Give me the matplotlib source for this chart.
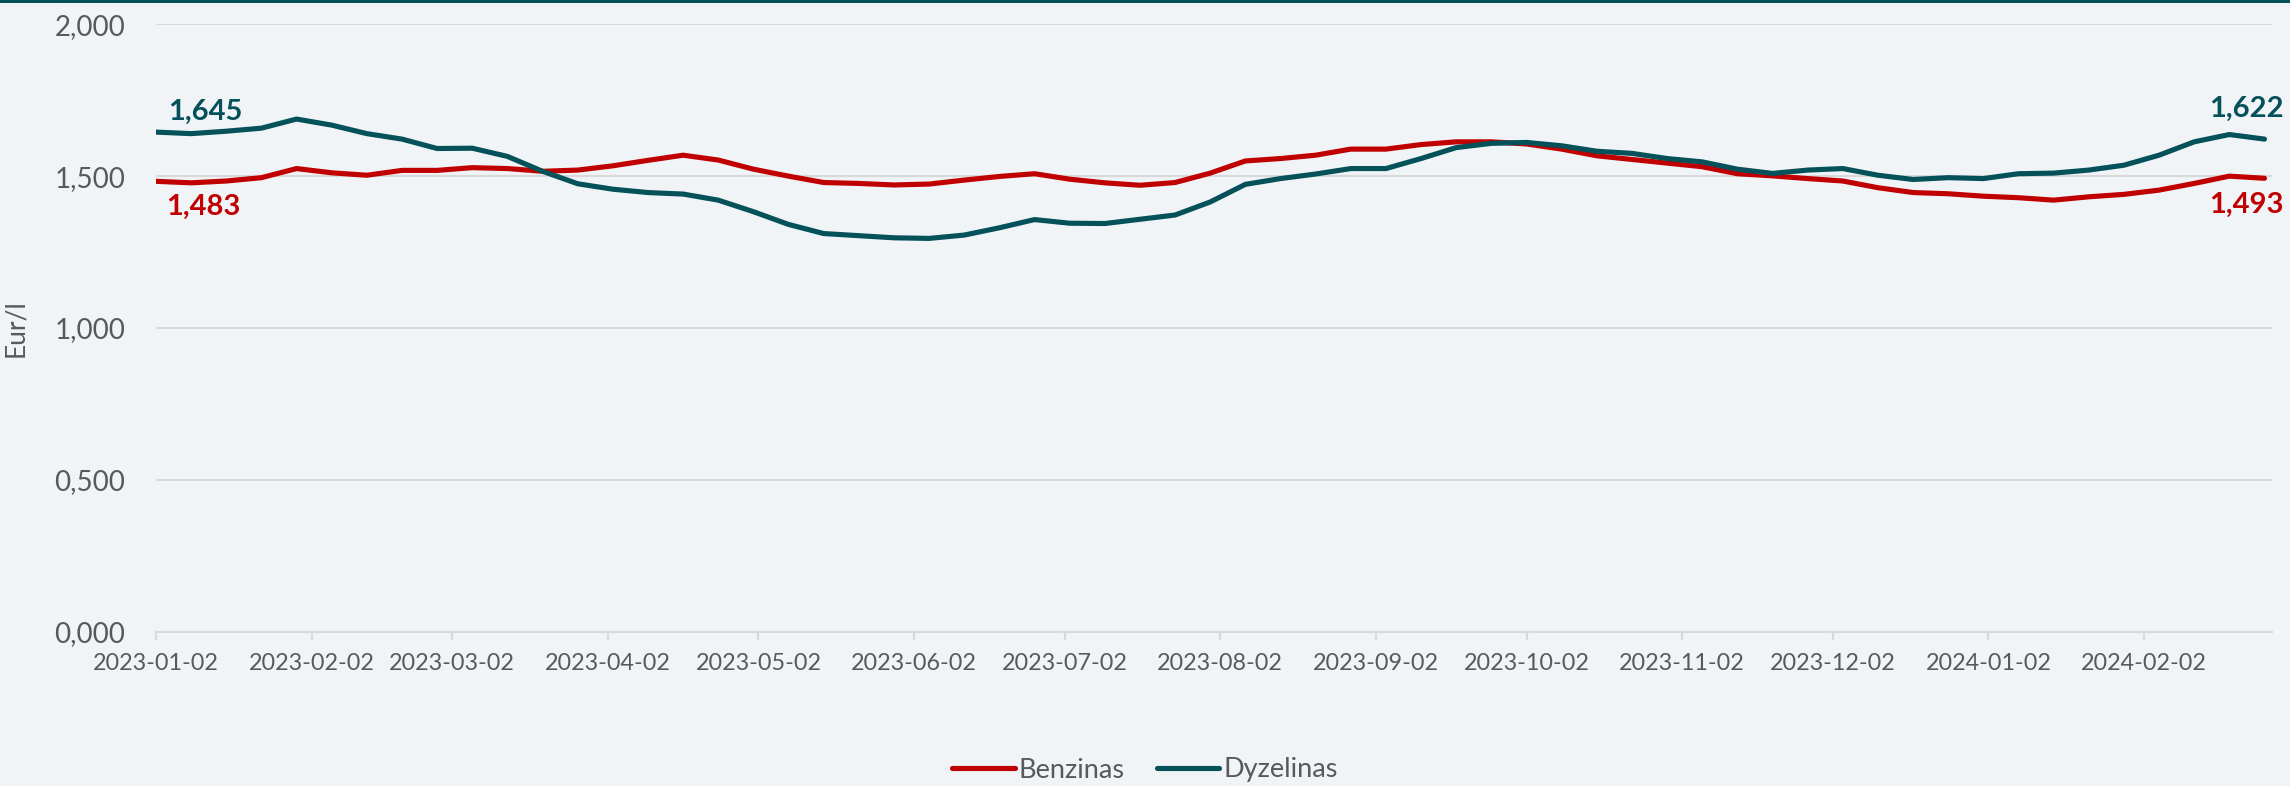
import matplotlib
matplotlib.use("Agg")
import matplotlib.pyplot as plt
import matplotlib.dates as mdates
from matplotlib.patches import Rectangle
import pandas as pd

plt.rcParams['font.family'] = ['Lato', 'DejaVu Sans']

# weekly fuel prices, Eur/l
dates = pd.date_range("2023-01-02", periods=61, freq="7D")

benzinas = [1.483, 1.478, 1.484, 1.495, 1.525, 1.511, 1.503, 1.519, 1.519, 1.528,
            1.525, 1.516, 1.520, 1.534, 1.552, 1.569, 1.553, 1.523, 1.500, 1.479,
            1.476, 1.471, 1.474, 1.487, 1.499, 1.508, 1.490, 1.478, 1.470, 1.479,
            1.510, 1.550, 1.558, 1.569, 1.589, 1.589, 1.604, 1.613, 1.613, 1.606,
            1.589, 1.567, 1.555, 1.543, 1.531, 1.508, 1.501, 1.492, 1.484, 1.462,
            1.446, 1.442, 1.434, 1.429, 1.421, 1.432, 1.440, 1.454, 1.476, 1.500,
            1.493]

dyzelinas = [1.645, 1.640, 1.648, 1.658, 1.688, 1.668, 1.640, 1.622, 1.591, 1.592,
             1.565, 1.516, 1.475, 1.457, 1.446, 1.441, 1.421, 1.383, 1.341, 1.311,
             1.304, 1.297, 1.295, 1.306, 1.330, 1.357, 1.345, 1.344, 1.358, 1.372,
             1.415, 1.473, 1.492, 1.507, 1.525, 1.525, 1.558, 1.594, 1.608, 1.611,
             1.600, 1.582, 1.575, 1.558, 1.547, 1.523, 1.509, 1.520, 1.525, 1.503,
             1.489, 1.495, 1.492, 1.508, 1.510, 1.520, 1.536, 1.569, 1.613, 1.637,
             1.622]

# ticks on the 2nd of every month
tick_dates = pd.date_range("2023-01-01", "2024-02-01", freq="MS") + pd.Timedelta(days=1)
y_ticks = [0.0, 0.5, 1.0, 1.5, 2.0]

red = '#C00000'
teal = '#05515A'
grey_txt = '#595959'
bg = '#F0F4F7'


def lt(v):
    # Lithuanian decimal comma
    return f"{v:.3f}".replace('.', ',')


fig = plt.figure(figsize=(22.9, 7.86), dpi=100, facecolor=bg)
ax = fig.add_axes([156 / 2290, 154.3 / 786, 2116 / 2290, 607.4 / 786])
ax.set_facecolor(bg)

ax.plot(dates, benzinas, color=red, lw=3.7, solid_capstyle='round',
        solid_joinstyle='round', label='Benzinas', zorder=3)
ax.plot(dates, dyzelinas, color=teal, lw=3.7, solid_capstyle='round',
        solid_joinstyle='round', label='Dyzelinas', zorder=3)

ax.set_ylim(0, 2.0)
ax.set_xlim(dates[0], dates[0] + pd.Timedelta(days=421.5))
ax.set_yticks(y_ticks)
ax.set_yticklabels([lt(v) for v in y_ticks])
ax.set_xticks(tick_dates)
ax.xaxis.set_major_formatter(mdates.DateFormatter('%Y-%m-%d'))

ax.grid(axis='y', color='#D9D9D9', lw=1.5, zorder=0)
for s in ['top', 'right', 'left']:
    ax.spines[s].set_visible(False)
ax.spines['bottom'].set_color('#D9D9D9')
ax.spines['bottom'].set_linewidth(1.5)
ax.tick_params(axis='y', length=0, pad=22, labelsize=20, labelcolor=grey_txt)
ax.tick_params(axis='x', length=6, width=1.5, color='#D9D9D9', direction='out',
               pad=9, labelsize=16.8, labelcolor=grey_txt)

ax.set_ylabel('Eur/l', fontsize=19, color=grey_txt)
ax.yaxis.set_label_coords(-128 / 2116, 0.5)

# data labels at first and last points
lbl = dict(fontsize=21, fontweight='bold', textcoords='offset pixels', va='baseline')
ax.annotate(lt(dyzelinas[0]), (dates[0], dyzelinas[0]),
            xytext=(12, 12), color=teal, ha='left', **lbl)
ax.annotate(lt(benzinas[0]), (dates[0], benzinas[0]),
            xytext=(10, -34), color=red, ha='left', **lbl)
ax.annotate(lt(dyzelinas[-1]), (dates[-1], dyzelinas[-1]),
            xytext=(19, 22), color=teal, ha='right', **lbl)
ax.annotate(lt(benzinas[-1]), (dates[-1], benzinas[-1]),
            xytext=(19, -35), color=red, ha='right', **lbl)

leg = fig.legend(loc='center', bbox_to_anchor=(0.5, 16 / 786), ncol=2, frameon=False,
                 fontsize=19.5, handlelength=2.3, handletextpad=0.15, columnspacing=1.2)
for t in leg.get_texts():
    t.set_color(grey_txt)

# dark top border
fig.add_artist(Rectangle((0, 1 - 3 / 786), 1, 3 / 786, transform=fig.transFigure,
                         color=teal, lw=0))

fig.savefig('out.png', dpi=100, facecolor=bg)
